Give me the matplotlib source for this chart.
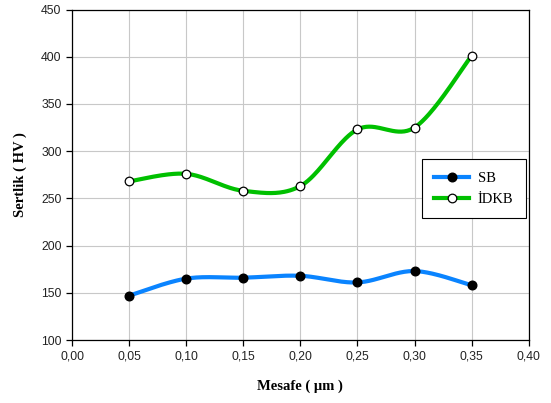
import numpy as np
import matplotlib
matplotlib.use("Agg")
import matplotlib.pyplot as plt
from matplotlib.ticker import FuncFormatter, MultipleLocator

x = [0.05, 0.10, 0.15, 0.20, 0.25, 0.30, 0.35]
sb = [147, 165, 166, 168, 161, 173, 158]
idkb = [268, 276, 258, 263, 323, 325, 401]
labels = ["SB", "İDKB"]


def smooth(xs, ys, n=40):
    xs = np.asarray(xs, float); ys = np.asarray(ys, float)
    px = np.concatenate([[xs[0]], xs, [xs[-1]]])
    py = np.concatenate([[ys[0]], ys, [ys[-1]]])
    outx, outy = [], []
    t = np.linspace(0, 1, n)
    for i in range(1, len(px) - 2):
        p0 = np.array([px[i], py[i]]); p3 = np.array([px[i + 1], py[i + 1]])
        p1 = p0 + (np.array([px[i + 1], py[i + 1]]) - np.array([px[i - 1], py[i - 1]])) / 6
        p2 = p3 - (np.array([px[i + 2], py[i + 2]]) - np.array([px[i], py[i]])) / 6
        b = ((1 - t) ** 3)[:, None] * p0 + (3 * (1 - t) ** 2 * t)[:, None] * p1 + \
            (3 * (1 - t) * t ** 2)[:, None] * p2 + (t ** 3)[:, None] * p3
        outx.extend(b[:, 0]); outy.extend(b[:, 1])
    return outx, outy


fig = plt.figure(figsize=(5.51, 4.03), dpi=100)
ax = fig.add_axes([0.1307, 0.1563, 0.8288, 0.8201])

blue = "#0A84FF"
green = "#00C000"
sx, sy = smooth(x, sb)
ax.plot(sx, sy, color=blue, lw=3, zorder=3, solid_capstyle="butt")
ax.plot(x, sb, "o", color="black", ms=6.2, zorder=4)
gx, gy = smooth(x, idkb)
ax.plot(gx, gy, color=green, lw=3, zorder=3, solid_capstyle="butt")
ax.plot(x, idkb, "o", mfc="white", mec="black", mew=0.9, ms=6.2, zorder=4)

h1, = ax.plot([], [], color=blue, lw=3, marker="o", mfc="black", mec="black", ms=6.2)
h2, = ax.plot([], [], color=green, lw=3, marker="o", mfc="white", mec="black", mew=0.9, ms=6.2)
leg = ax.legend([h1, h2], labels, loc="upper left", bbox_to_anchor=(0.766, 0.547),
                frameon=True, fancybox=False, edgecolor="black", framealpha=1,
                prop={"family": "Liberation Serif", "size": 10.5},
                handlelength=2.4, handletextpad=0.6, borderpad=0.85, labelspacing=0.55,
                borderaxespad=0)
leg.get_frame().set_linewidth(0.8)

ax.set_xlim(0, 0.40)
ax.set_ylim(100, 450)
ax.xaxis.set_major_locator(MultipleLocator(0.05))
ax.yaxis.set_major_locator(MultipleLocator(50))
ax.xaxis.set_major_formatter(FuncFormatter(lambda v, p: f"{v:.2f}".replace(".", ",")))
ax.grid(True, color="#c8c8c8", lw=0.8, zorder=0)
ax.set_axisbelow(True)
for s in ax.spines.values():
    s.set_color("black"); s.set_linewidth(0.9)
ax.tick_params(direction="out", length=4, width=0.9, colors="black",
               labelsize=8.8, labelcolor="#222222")
for lab in ax.get_xticklabels() + ax.get_yticklabels():
    lab.set_family("Liberation Sans")

ax.set_xlabel("Mesafe ( µm )", family="Liberation Serif", fontweight="bold", fontsize=10.5, labelpad=12)
ax.set_ylabel("Sertlik ( HV )", family="Liberation Serif", fontweight="bold", fontsize=10.5, labelpad=10)

fig.savefig("out.png", dpi=100)
